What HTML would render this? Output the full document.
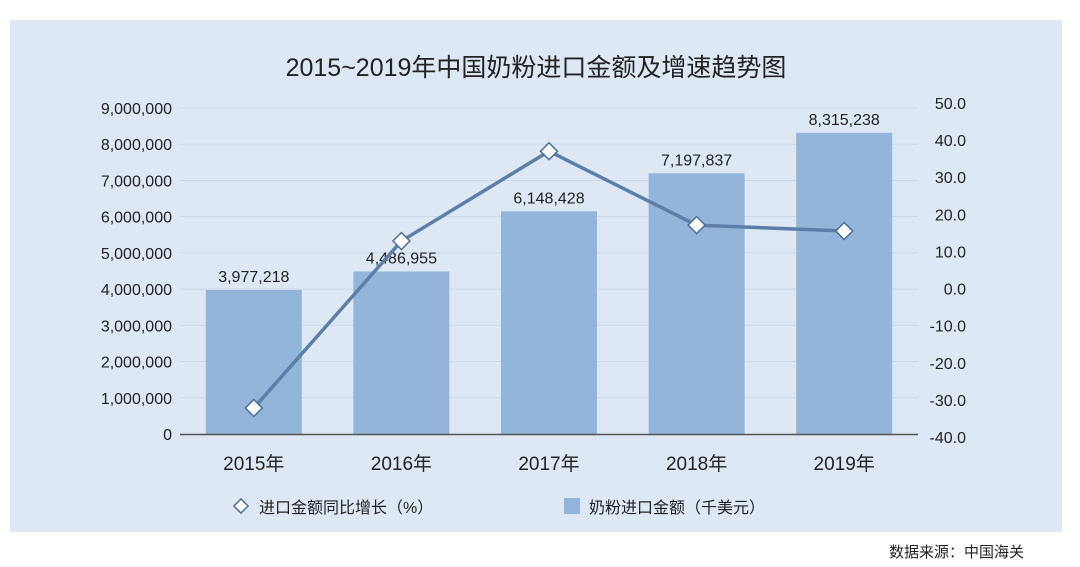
<!DOCTYPE html>
<html><head><meta charset="utf-8">
<style>
body{margin:0;width:1080px;height:562px;background:#fff;overflow:hidden;font-family:"Liberation Sans","Noto Sans CJK SC",sans-serif;}
svg text{font-family:"Liberation Sans","Noto Sans CJK SC",sans-serif;}
</style></head>
<body>
<svg id="chart" width="1080" height="562">
<rect x="10" y="20" width="1052" height="512" fill="#dde8f4"/>
<text x="536" y="76" font-size="25" text-anchor="middle" fill="#222">2015~2019年中国奶粉进口金额及增速趋势图</text>
<g id="grid"></g><g id="bars"></g><g id="line"></g><g id="axes"></g>
<g>
<rect x="236" y="501" width="10" height="10" transform="rotate(45 241 506)" fill="#fff" stroke="#4a6f99" stroke-width="1.5"/>
<text x="259" y="513" font-size="16" fill="#222">进口金额同比增长（%）</text>
<rect x="564" y="498" width="16" height="16" fill="#93b5d9"/>
<text x="589" y="513" font-size="16" fill="#222">奶粉进口金额（千美元）</text>
</g>
<text x="1024" y="557" font-size="15" text-anchor="end" fill="#222">数据来源：中国海关</text>
</svg>
<script>
const categories=["2015年","2016年","2017年","2018年","2019年"];
const amounts=[3977218,4486955,6148428,7197837,8315238];
const growth=[-32.2,12.8,37.0,17.1,15.5];
const leftTicks=[0,1000000,2000000,3000000,4000000,5000000,6000000,7000000,8000000,9000000];
const rightTicks=[-40,-30,-20,-10,0,10,20,30,40,50];
const NS="http://www.w3.org/2000/svg";
const x0=180,x1=918,yL=(v)=>434-v/9000000*326,yR=(v)=>437-(v+40)/90*334;
const band=(x1-x0)/categories.length,xc=(i)=>x0+band*(i+0.5);
function mk(t,a,p){const e=document.createElementNS(NS,t);for(const k in a)e.setAttribute(k,a[k]);p.appendChild(e);return e;}
const fmt=(n)=>n.toLocaleString('en-US');
const G=document.getElementById('grid'),B=document.getElementById('bars'),L=document.getElementById('line'),A=document.getElementById('axes');
leftTicks.forEach(v=>{
 if(v>0){const g=mk('line',{x1:x0,x2:x1,y1:yL(v),y2:yL(v),stroke:'#c9d7e6','stroke-width':1},G);
 
 }
 const t=mk('text',{x:172,y:yL(v)+6,'font-size':16,'text-anchor':'end',fill:'#222'},A);t.textContent=fmt(v);
 
 
});
rightTicks.forEach(v=>{
 const t=mk('text',{x:966,y:yR(v)+6,'font-size':16,'text-anchor':'end',fill:'#222'},A);t.textContent=v.toFixed(1);
 
 
});
const ax=mk('line',{x1:x0,x2:x1,y1:434.5,y2:434.5,stroke:'#555','stroke-width':1.5},A);


categories.forEach((c,i)=>{
 const bw=96,r=mk('rect',{x:xc(i)-bw/2,y:yL(amounts[i]),width:bw,height:434-yL(amounts[i]),fill:'#93b5d9'},B);
 
 
 const t=mk('text',{x:xc(i),y:yL(amounts[i])-8,'font-size':16,'text-anchor':'middle',fill:'#222'},B);t.textContent=fmt(amounts[i]);
 
 
 const xl=mk('text',{x:xc(i),y:470,'font-size':19,'text-anchor':'middle',fill:'#222'},A);xl.textContent=c;
 
 
});
const pl=mk('polyline',{points:growth.map((v,i)=>xc(i)+','+yR(v)).join(' '),fill:'none',stroke:'#5b7fa8','stroke-width':3.5},L);


growth.forEach((v,i)=>{
 const cx=xc(i),cy=yR(v);
 const m=mk('rect',{x:cx-6,y:cy-6,width:12,height:12,transform:`rotate(45 ${cx} ${cy})`,fill:'#fff',stroke:'#4a6f99','stroke-width':1.5},L);
 
 
});
</script>
</body></html>
